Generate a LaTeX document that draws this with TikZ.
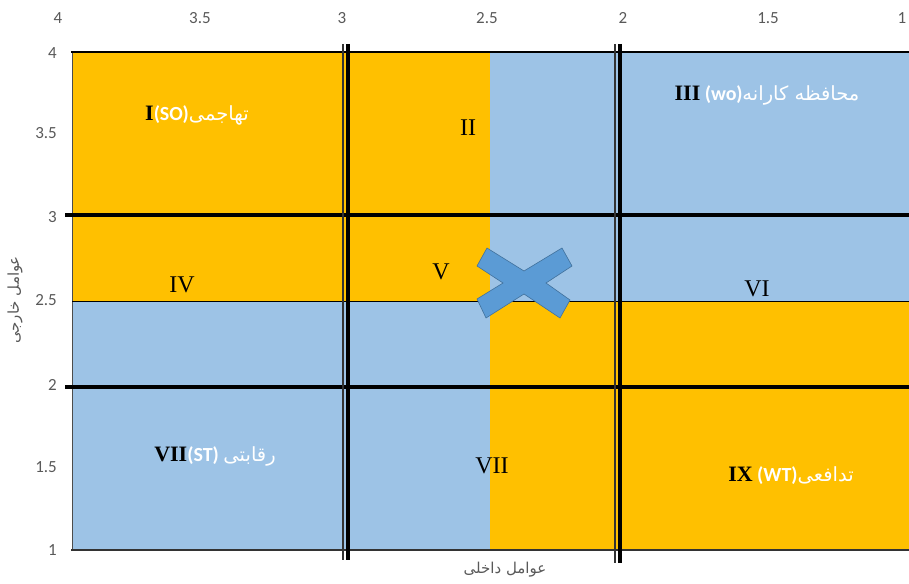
\documentclass[tikz,border=0pt]{standalone}
\usepackage{fontspec}
\usepackage{xcolor}
\usepackage{tikz}
\usetikzlibrary{calc, positioning}
\setmainfont{Liberation Serif}
\newfontfamily\calibri{Carlito}
\newfontfamily\farsi[Script=Arabic]{DejaVu Sans}
\TeXXeTstate=1

\definecolor{amber}{HTML}{FFC000}
\definecolor{skyblue}{HTML}{9DC3E6}
\definecolor{crossblue}{HTML}{5B9BD5}
\definecolor{crossedge}{HTML}{41719C}
\definecolor{ticktext}{HTML}{595959}

\tikzset{
    ticklabel/.style={text=ticktext, font=\calibri\fontsize{17}{19}\selectfont, inner sep=0pt},
    axistitle/.style={text=ticktext, font=\farsi\fontsize{15}{17}\selectfont, inner sep=0pt},
    quadlabel/.style={font=\fontsize{24}{26}\selectfont, inner sep=0pt},
    namelabel/.style={font=\bfseries\fontsize{22}{24}\selectfont, inner sep=0pt},
    bigline/.style={line width=4.5pt, black},
    thinline/.style={line width=1.2pt, black!80}
}

\newcommand{\wt}[1]{{\color{white}\calibri\bfseries\fontsize{20}{22}\selectfont #1}}
\newcommand{\fa}[1]{{\color{white}\farsi\mdseries\fontsize{19.5}{22}\selectfont\beginR #1\endR}}

\begin{document}
\begin{tikzpicture}[x=1pt, y=-1pt]
    \useasboundingbox (0,0) rectangle (909,583);
    % 1. Các vùng màu
    \fill[amber]   (72,53)  rectangle (490,301);
    \fill[skyblue] (490,53) rectangle (909,301);
    \fill[skyblue] (72,301) rectangle (490,550);
    \fill[amber]   (490,301) rectangle (909,550);

    % 2. Khung
    \draw[black!70, line width=0.8pt] (72,53) -- (72,550);
    \draw[black, line width=2.2pt] (71,52) -- (909,52);
    \draw[black!80, line width=2pt] (71,550) -- (909,550);
    \draw[black, line width=0.8pt] (72,301) -- (909,301);

    % 3. Các mốc
    \foreach \py/\val in {53/4, 133/3.5, 217/3, 300/2.5, 385/2, 467/1.5, 550/1} {
        \node[ticklabel, anchor=east] (ty\val) at (57,\py) {\val};
    }
    \foreach \px/\val in {58/4, 200/3.5, 342/3, 487/2.5, 623/2, 768/1.5, 902/1} {
        \node[ticklabel] (tx\val) at (\px,18) {\val};
    }

    % 4. Các đường chia
    \draw[bigline] (65,215) -- (909,215);
    \draw[bigline] (65,387) -- (909,387);
    \draw[thinline] (343,44) -- (343,560);
    \draw[bigline, line width=4pt] (348,44) -- (348,560);
    \draw[thinline] (615,44) -- (615,563);
    \draw[bigline, line width=4pt] (620,44) -- (620,563);

    % 5. Dấu X
    \filldraw[fill=crossblue, draw=crossedge, line width=0.6pt]
        (487,248) -- (524,271) -- (562,248) -- (572,266) -- (546,283) -- (570,300)
        -- (560,318) -- (524,294) -- (486,318) -- (477,299) -- (503,283) -- (477,266) -- cycle;

    % 6. Nhãn các ô
    \node[namelabel] (q1) at (197,115) {I\wt{(SO)}\fa{تهاجمی}};
    \node[quadlabel] (q2) at (468,128) {II};
    \node[namelabel] (q3) at (767,95) {III\wt{ (wo)}\fa{محافظه کارانه}};
    \node[quadlabel] (q4) at (182,285) {IV};
    \node[quadlabel] (q5) at (441,272) {V};
    \node[quadlabel] (q6) at (757,289) {VI};
    \node[namelabel] (q7) at (215,456) {VII\wt{(ST) }\fa{رقابتی}};
    \node[quadlabel] (q8) at (492,466) {VII};
    \node[namelabel] (q9) at (791,476) {IX\wt{ (WT)}\fa{تدافعی}};

    % 7. Tên trục
    \node[axistitle] (xtitle) at (505,570) {\beginR عوامل داخلی\endR};
    \node[axistitle, rotate=90] (ytitle) at (15,300) {\beginR عوامل خارجی\endR};
\end{tikzpicture}
\end{document}
